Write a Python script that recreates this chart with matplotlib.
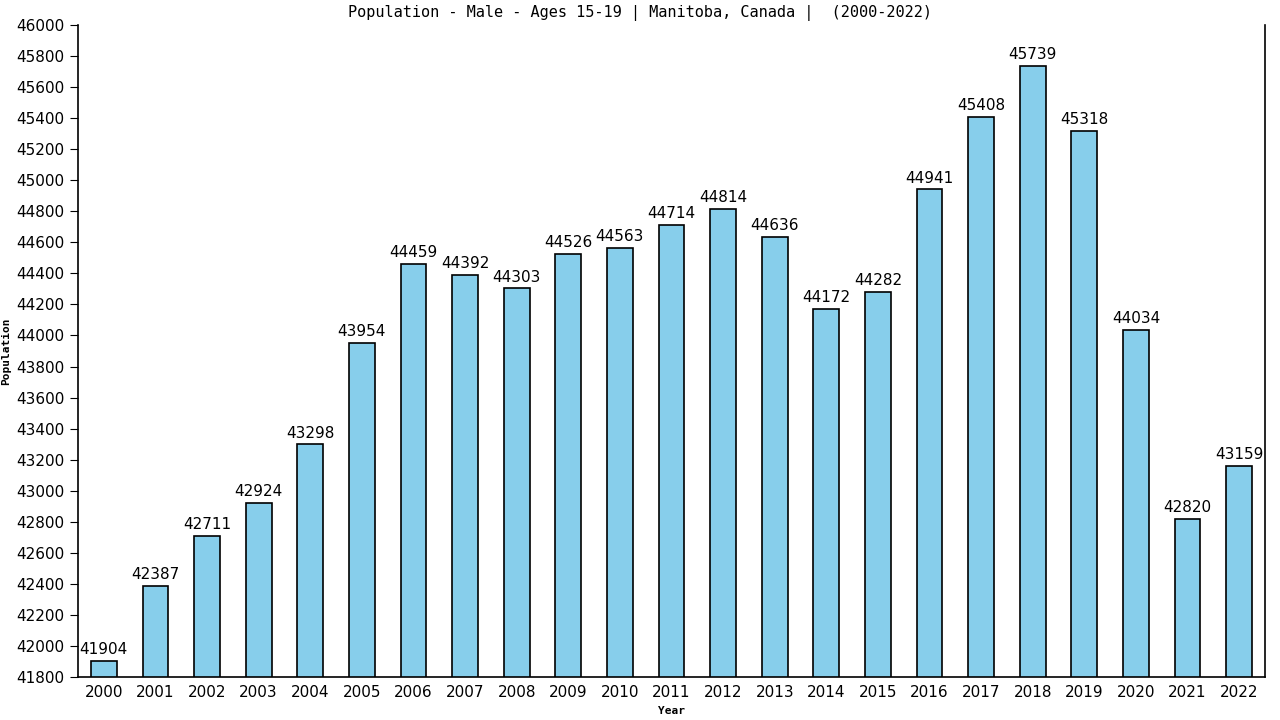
import matplotlib
matplotlib.use("Agg")
import matplotlib.pyplot as plt
import numpy as np

years = [str(y) for y in range(2000, 2023)]
population = [41904, 42387, 42711, 42924, 43298, 43954, 44459, 44392, 44303, 44526,
              44563, 44714, 44814, 44636, 44172, 44282, 44941, 45408, 45739, 45318,
              44034, 42820, 43159]
y_ticks = list(range(41800, 46001, 200))

fig = plt.figure(figsize=(12.8, 7.2), dpi=100)
ax = fig.add_axes([78 / 1280, 43 / 720, 1187 / 1280, 652 / 720])

x = np.arange(len(years))
bars = ax.bar(x, population, width=0.5, color="#87ceeb", edgecolor="black", linewidth=1.2)
for xi, v in zip(x, population):
    ax.text(xi, v + 25, str(v), ha="center", va="bottom", fontsize=11, family="DejaVu Sans")

ax.set_xlim(-0.5, len(years) - 0.5)
ax.set_ylim(41800, 46000)
ax.set_yticks(y_ticks)
ax.set_yticklabels([str(t) for t in y_ticks], fontsize=11)
ax.set_xticks(x)
ax.set_xticklabels(years, fontsize=11)
ax.tick_params(axis="x", length=0, pad=6)
ax.tick_params(axis="y", length=6, direction="out")
ax.spines["top"].set_visible(False)
ax.spines["left"].set_linewidth(1.2)
ax.spines["right"].set_linewidth(1.2)
ax.spines["bottom"].set_linewidth(1.2)

ax.set_xlabel("Year", fontsize=8, fontweight="bold", family="DejaVu Sans Mono", labelpad=4)
ax.set_ylabel("Population", fontsize=8, fontweight="bold", family="DejaVu Sans Mono", labelpad=4)
fig.text(0.5, 0.982, "Population - Male - Ages 15-19 | Manitoba, Canada |  (2000-2022)",
         ha="center", va="center", fontsize=11, family="DejaVu Sans Mono")

fig.savefig("out.png", dpi=100)
